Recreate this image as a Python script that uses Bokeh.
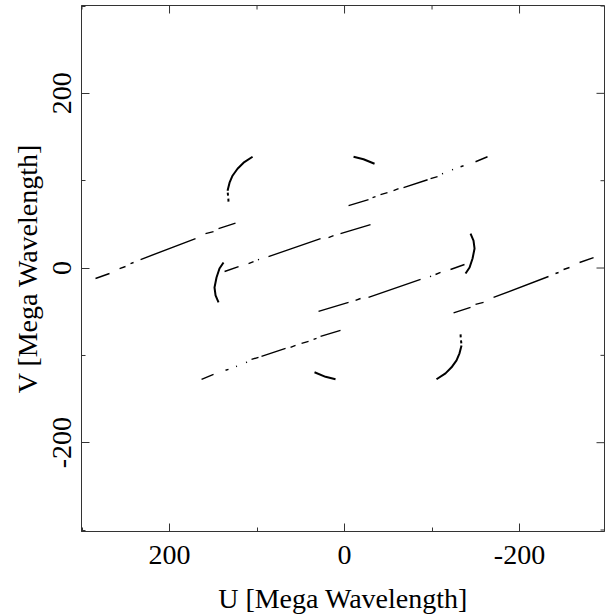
import math
from bokeh.plotting import figure
from bokeh.models import Range1d, FixedTicker
from bokeh.embed import file_html
from bokeh.resources import INLINE

NaN = float("nan")

# Track A (u, v in Mega Wavelength), gaps marked with NaN
track_a_u = [284.6, 268.6, NaN, 257.1, 250.3, NaN, 244.6, 241.1, NaN, 233.1, 170.3, NaN,
             158.9, 149.7, NaN, 144.0, 124.6]
track_a_v = [-12.0, -6.3, NaN, -0.6, 1.7, NaN, 5.1, 6.3, NaN, 9.7, 33.7, NaN,
             39.4, 41.7, NaN, 45.1, 51.4]

# Track B
track_b_u = [137.1, 121.1, NaN, 109.7, 104.0, NaN, 98.9, 97.7, NaN, 86.9, 27.4, NaN,
             18.3, 12.6, NaN, 4.6, -29.7]
track_b_v = [-4.0, 1.7, NaN, 5.1, 7.4, NaN, 9.4, 9.9, NaN, 13.1, 33.7, NaN,
             34.9, 37.1, NaN, 39.4, 49.7]

# Track C
track_c_u = [-4.6, -27.4, NaN, -32.0, -35.4, NaN, -41.1, -49.1, NaN, -56.0, -61.7, NaN,
             -67.4, -94.9, NaN, -98.3, -106.3, NaN, -111.4, -112.6, NaN, -122.9, -124.0, NaN,
             -132.6, -136.0, NaN, -149.7, -163.4]
track_c_v = [71.4, 78.3, NaN, 80.6, 81.7, NaN, 84.0, 86.3, NaN, 88.6, 90.9, NaN,
             92.0, 101.1, NaN, 102.3, 104.6, NaN, 107.8, 108.2, NaN, 112.4, 112.8, NaN,
             116.0, 117.1, NaN, 121.7, 127.4]

# Arcs
arc_1_u = [105.1, 115.4, 122.3, 128.0, 131.4, 133.7, NaN, 133.5, 133.1, NaN, 132.8, 132.6]
arc_1_v = [127.4, 120.6, 113.7, 105.7, 97.7, 88.6, NaN, 86.3, 82.9, NaN, 79.4, 76.0]
arc_2_u = [138.3, 142.9, 146.3, 148.6, 147.4, 144.0]
arc_2_v = [6.3, -0.6, -10.9, -22.3, -31.4, -39.4]
arc_3_u = [-10.3, -21.7, -34.3]
arc_3_v = [127.4, 124.6, 119.4]

major_ticks = [-200, 0, 200]
minor_ticks = [-300, -100, 100, 300]
tick_labels = {-200: "-200", 0: "0", 200: "200"}

FONT = "Liberation Serif"
AX = "#333333"

X0, X1 = 300.6, -297.1
Y0, Y1 = -301.7, 300.6

p = figure(width=605, height=616, output_backend="svg", toolbar_location=None,
           x_range=Range1d(X0, X1), y_range=Range1d(Y0, Y1),
           min_border_left=81, min_border_right=1, min_border_top=5, min_border_bottom=84,
           x_axis_label="U [Mega Wavelength]", y_axis_label="V [Mega Wavelength]")
p.grid.visible = False
p.outline_line_color = AX
p.outline_line_width = 1


def conj(vals):
    return [-x for x in vals]


tracks = [(track_a_u, track_a_v, 1.4), (track_b_u, track_b_v, 1.4), (track_c_u, track_c_v, 1.4),
          (arc_1_u, arc_1_v, 2.0), (arc_2_u, arc_2_v, 2.0), (arc_3_u, arc_3_v, 2.0)]
for u, v, w in tracks:
    p.line(u, v, line_color="black", line_width=w)
    p.line(conj(u), conj(v), line_color="black", line_width=w)

# ticks on the top and right edges (dash markers, clipped by the frame)
p.scatter(major_ticks, [Y1] * len(major_ticks), marker="dash", size=16, angle=math.pi / 2,
          line_color=AX, line_width=1)
p.scatter(minor_ticks, [Y1] * len(minor_ticks), marker="dash", size=8, angle=math.pi / 2,
          line_color=AX, line_width=1)
p.scatter([X1] * len(major_ticks), major_ticks, marker="dash", size=16,
          line_color=AX, line_width=1)
p.scatter([X1] * len(minor_ticks), minor_ticks, marker="dash", size=8,
          line_color=AX, line_width=1)

for ax in p.axis:
    ax.ticker = FixedTicker(ticks=major_ticks, minor_ticks=minor_ticks)
    ax.major_label_overrides = tick_labels
    ax.axis_line_color = AX
    ax.major_tick_line_color = AX
    ax.minor_tick_line_color = AX
    ax.major_tick_in = 8
    ax.major_tick_out = 0
    ax.minor_tick_in = 4
    ax.minor_tick_out = 0
    ax.major_label_text_font = FONT
    ax.major_label_text_font_size = "28px"
    ax.major_label_text_color = "black"
    ax.axis_label_text_font = FONT
    ax.axis_label_text_font_size = "28px"
    ax.axis_label_text_font_style = "normal"
    ax.axis_label_text_color = "black"

p.xaxis[0].major_label_standoff = 14
p.xaxis[0].axis_label_standoff = 16
p.yaxis[0].major_label_orientation = "vertical"
p.yaxis[0].major_label_standoff = 10
p.yaxis[0].axis_label_standoff = 8

open("out.html", "w").write(file_html(p, INLINE))
